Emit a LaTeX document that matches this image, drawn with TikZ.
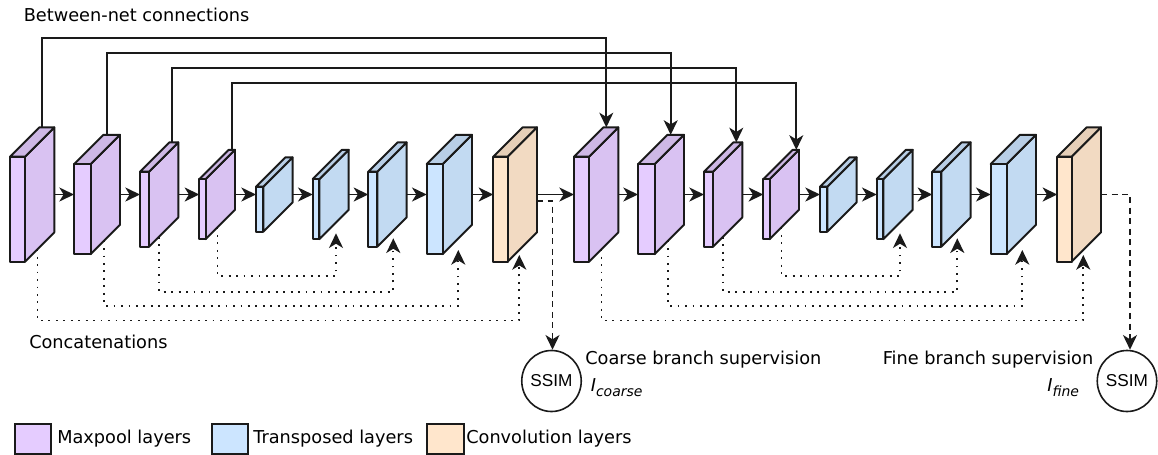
\documentclass[tikz,border=0pt]{standalone}
\usepackage{fontspec}
\setmainfont{DejaVu Sans}[ItalicFont={DejaVu Sans Oblique}]
\newfontfamily\ssimfont{Liberation Sans}
\usetikzlibrary{arrows.meta,shapes.geometric}

% face colours of the three layer kinds
\definecolor{mpFront}{HTML}{E5CCFF}
\definecolor{mpSide}{HTML}{D9C2F2}
\definecolor{mpTop}{HTML}{CEB8E6}
\definecolor{trFront}{HTML}{CCE5FF}
\definecolor{trSide}{HTML}{C2DAF2}
\definecolor{trTop}{HTML}{B8CEE6}
\definecolor{cvFront}{HTML}{FFE6CC}
\definecolor{cvSide}{HTML}{F2DAC2}
\definecolor{cvTop}{HTML}{E6CFB8}
\definecolor{ink}{HTML}{1A1A1A}

% vertical centre line of the layers and depth of each slab
\newcommand\laycy{194.5}
\newcommand\laydp{29.3}

% #1 name, #2 left x of front face, #3 front width, #4 front height, #5 colour family
\newcommand\layerbox[5]{%
  \pgfmathsetmacro\lyL{#2}%
  \pgfmathsetmacro\lyR{#2+#3}%
  \pgfmathsetmacro\lyT{\laycy+(\laydp-#4)/2}%
  \pgfmathsetmacro\lyB{\lyT+#4}%
  \pgfmathsetmacro\lyBR{\lyR+\laydp}%
  \pgfmathsetmacro\lyBT{\lyT-\laydp}%
  \pgfmathsetmacro\lyBB{\lyB-\laydp}%
  \pgfmathsetmacro\lyBL{\lyL+\laydp}%
  \filldraw[layer,fill=#5Side] (\lyR,\lyB) -- (\lyBR,\lyBB) -- (\lyBR,\lyBT) -- (\lyR,\lyT) -- cycle;
  \filldraw[layer,fill=#5Top] (\lyL,\lyT) -- (\lyR,\lyT) -- (\lyBR,\lyBT) -- (\lyBL,\lyBT) -- cycle;
  \filldraw[layer,fill=#5Front] (\lyL,\lyT) rectangle (\lyR,\lyB);
  \coordinate (#1-w) at (\lyL,\laycy);
  \coordinate (#1-e) at (\lyBR,\laycy);
}

\begin{document}
\begin{tikzpicture}[x=0.75pt,y=-0.75pt,
  layer/.style={draw=ink,line width=1.45pt,line join=round},
  flow/.style={draw=ink,line width=1.3pt,-{Stealth[length=11pt,width=10.5pt,inset=3.2pt]}},
  link/.style={flow},
  concat/.style={flow,dash pattern=on 1.4pt off 4.2pt},
  superv/.style={flow,dash pattern=on 4.5pt off 3.4pt},
  lbl/.style={anchor=base west,inner sep=0pt,font=\fontsize{13.3pt}{16pt}\selectfont},
  keybox/.style={draw=ink,line width=1.6pt,anchor=north west,inner sep=0pt,
                 minimum width=27.4pt,minimum height=22.5pt},
  ssim/.style={ellipse,draw=ink,line width=1.2pt,inner sep=0pt,
               minimum width=41.25pt,minimum height=45.75pt,
               font=\ssimfont\fontsize{12.9pt}{14pt}\selectfont}
]
\useasboundingbox (0,0) rectangle (1158,454);

% the two encoder-decoder networks
\foreach \n/\s in {a/0,b/564}{
  \begin{scope}[xshift=\s*0.75pt]
    \layerbox{\n-L1}{10}{15}{105}{mp}
    \layerbox{\n-L2}{74}{16.7}{90}{mp}
    \layerbox{\n-L3}{140}{9}{75}{mp}
    \layerbox{\n-L4}{199.3}{6.4}{60}{mp}
    \layerbox{\n-L5}{256}{7.3}{45}{tr}
    \layerbox{\n-L6}{312.7}{6.7}{60}{tr}
    \layerbox{\n-L7}{368.3}{9}{75}{tr}
    \layerbox{\n-L8}{426.7}{16}{90}{tr}
    \layerbox{\n-L9}{493.3}{14.4}{105}{cv}
    % attachment points on the slabs
    \coordinate (\n-u1) at (42.3,127.35);
    \coordinate (\n-u2) at (106.7,134.85);
    \coordinate (\n-u3) at (172.3,142.35);
    \coordinate (\n-u4) at (232.3,149.85);
    \coordinate (\n-s1) at (37.5,249.2);
    \coordinate (\n-s2) at (104.3,240.6);
    \coordinate (\n-s3) at (159,236.7);
    \coordinate (\n-s4) at (217.5,227.4);
    \coordinate (\n-t6) at (336,233.3);
    \coordinate (\n-t7) at (393.3,238.3);
    \coordinate (\n-t8) at (458.3,250);
    \coordinate (\n-t9) at (519.3,255);
    \coordinate (\n-r4) at (280,276);
    \coordinate (\n-r3) at (280,291.7);
    \coordinate (\n-r2) at (280,306);
    \coordinate (\n-r1) at (280,320.5);
    % forward flow
    \foreach \i/\j in {1/2,2/3,3/4,4/5,5/6,6/7,7/8,8/9}
      \draw[flow] (\n-L\i-e) -- (\n-L\j-w);
    % skip concatenations
    \draw[concat] (\n-s4) |- (\n-r4) -| (\n-t6);
    \draw[concat] (\n-s3) |- (\n-r3) -| (\n-t7);
    \draw[concat] (\n-s2) |- (\n-r2) -| (\n-t8);
    \draw[concat] (\n-s1) |- (\n-r1) -| (\n-t9);
  \end{scope}
}

% coarse net feeds the fine net
\draw[flow] (a-L9-e) -- (b-L1-w);

% between-net connections
\coordinate (rail1) at (300,38.3);
\coordinate (rail2) at (300,52.7);
\coordinate (rail3) at (300,67.7);
\coordinate (rail4) at (300,82.7);
\draw[link] (a-u1) |- (rail1) -| (b-u1);
\draw[link] (a-u2) |- (rail2) -| (b-u2);
\draw[link] (a-u3) |- (rail3) -| (b-u3);
\draw[link] (a-u4) |- (rail4) -| (b-u4);

% supervision
\node[ssim] (ssimA) at (551.5,381) {SSIM};
\node[ssim] (ssimB) at (1127,381) {SSIM};
\coordinate (a-out) at (537,201);
\coordinate (dropA) at (552.5,201);
\coordinate (dropB) at (1130,194.5);
\draw[superv] (a-out) -- (dropA) -- (dropA |- ssimA.north);
\draw[superv] (b-L9-e) -- (dropB) -- (dropB |- ssimB.north);

% labels
\node[lbl] (between) at (23.5,21) {Between-net connections};
\node[lbl] (concat) at (29,348.3) {Concatenations};
\node[lbl] (coarse) at (585,364.3) {Coarse branch supervision};
\node[lbl] (lcoarse) at (590.5,391.7) {\itshape I\raisebox{-3.75pt}{\fontsize{10.5pt}{12pt}\selectfont coarse}};
\node[lbl] (fine) at (882.5,364.3) {Fine branch supervision};
\node[lbl] (lfine) at (1047,391.7) {\itshape I\raisebox{-3.75pt}{\fontsize{10.5pt}{12pt}\selectfont fine}};

% legend
\node[keybox,fill=mpFront] (keyMP) at (13.5,422.7) {};
\node[lbl] (txtMP) at (57,443.3) {Maxpool layers};
\node[keybox,fill=trFront] (keyTR) at (210.5,422.7) {};
\node[lbl] (txtTR) at (253,443.3) {Transposed layers};
\node[keybox,fill=cvFront] (keyCV) at (426,422.7) {};
\node[lbl] (txtCV) at (466,443.3) {Convolution layers};
\end{tikzpicture}
\end{document}
